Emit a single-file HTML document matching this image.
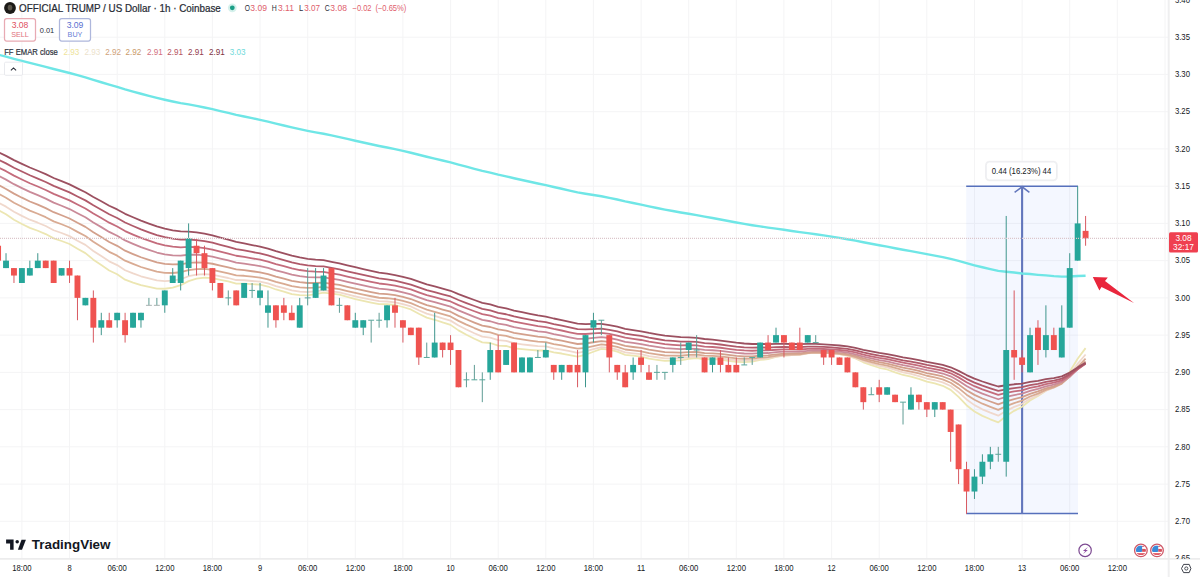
<!DOCTYPE html>
<html><head><meta charset="utf-8"><style>
html,body{margin:0;padding:0;background:#fff;}
body{width:1200px;height:577px;overflow:hidden;position:relative;font-family:"Liberation Sans",Arial,sans-serif;}
svg{position:absolute;left:0;top:0;font-family:"Liberation Sans",Arial,sans-serif;}
</style></head><body>
<svg width="1200" height="577" viewBox="0 0 1200 577">
<g stroke="#f4f4f5" stroke-width="1"><line x1="21.9" y1="0" x2="21.9" y2="559"/><line x1="69.5" y1="0" x2="69.5" y2="559"/><line x1="117.2" y1="0" x2="117.2" y2="559"/><line x1="164.8" y1="0" x2="164.8" y2="559"/><line x1="212.4" y1="0" x2="212.4" y2="559"/><line x1="260.0" y1="0" x2="260.0" y2="559"/><line x1="307.7" y1="0" x2="307.7" y2="559"/><line x1="355.3" y1="0" x2="355.3" y2="559"/><line x1="402.9" y1="0" x2="402.9" y2="559"/><line x1="450.6" y1="0" x2="450.6" y2="559"/><line x1="498.2" y1="0" x2="498.2" y2="559"/><line x1="545.8" y1="0" x2="545.8" y2="559"/><line x1="593.4" y1="0" x2="593.4" y2="559"/><line x1="641.1" y1="0" x2="641.1" y2="559"/><line x1="688.7" y1="0" x2="688.7" y2="559"/><line x1="736.3" y1="0" x2="736.3" y2="559"/><line x1="783.9" y1="0" x2="783.9" y2="559"/><line x1="831.6" y1="0" x2="831.6" y2="559"/><line x1="879.2" y1="0" x2="879.2" y2="559"/><line x1="926.8" y1="0" x2="926.8" y2="559"/><line x1="974.5" y1="0" x2="974.5" y2="559"/><line x1="1022.1" y1="0" x2="1022.1" y2="559"/><line x1="1069.7" y1="0" x2="1069.7" y2="559"/><line x1="1117.3" y1="0" x2="1117.3" y2="559"/><line x1="1165.0" y1="0" x2="1165.0" y2="559"/><line x1="0" y1="37.2" x2="1169" y2="37.2"/><line x1="0" y1="74.4" x2="1169" y2="74.4"/><line x1="0" y1="111.7" x2="1169" y2="111.7"/><line x1="0" y1="148.9" x2="1169" y2="148.9"/><line x1="0" y1="186.2" x2="1169" y2="186.2"/><line x1="0" y1="223.4" x2="1169" y2="223.4"/><line x1="0" y1="260.6" x2="1169" y2="260.6"/><line x1="0" y1="297.9" x2="1169" y2="297.9"/><line x1="0" y1="335.1" x2="1169" y2="335.1"/><line x1="0" y1="372.4" x2="1169" y2="372.4"/><line x1="0" y1="409.6" x2="1169" y2="409.6"/><line x1="0" y1="446.8" x2="1169" y2="446.8"/><line x1="0" y1="484.1" x2="1169" y2="484.1"/><line x1="0" y1="521.3" x2="1169" y2="521.3"/><line x1="0" y1="558.6" x2="1169" y2="558.6"/></g>
<rect x="966.2" y="186.2" width="111.8" height="327.7" fill="#2962ff" fill-opacity="0.05"/>
<line x1="966.2" y1="186.2" x2="1078.0" y2="186.2" stroke="#5670bc" stroke-width="1.5"/>
<line x1="966.2" y1="513.4" x2="1078.0" y2="513.4" stroke="#5670bc" stroke-width="1.5"/>
<line x1="1022.1" y1="513.9" x2="1022.1" y2="187.2" stroke="#6276bc" stroke-width="2.1"/>
<path d="M1014.6,192.4 L1022.1,186.8 L1029.4,192.4" fill="none" stroke="#6276bc" stroke-width="1.5"/>
<rect x="985.8" y="161.6" width="71.2" height="18.8" rx="3.5" fill="none" stroke="#f1f1f3" stroke-width="1.6"/>
<rect x="986.3" y="162.1" width="70.2" height="17.8" rx="3" fill="#fff" stroke="#e4e5ea" stroke-width="0.6"/>
<text x="1021.5" y="174.3" font-size="8.9" text-anchor="middle" fill="#131722" textLength="59.5" lengthAdjust="spacingAndGlyphs">0.44 (16.23%) 44</text>
<path d="M-1.91,209.86 L6.02,214.34 L13.96,219.73 L21.90,224.00 L29.84,227.88 L37.78,230.77 L45.71,234.06 L53.65,238.37 L61.59,240.99 L69.53,244.03 L77.47,248.78 L85.40,253.11 L93.34,259.68 L101.28,265.02 L109.22,270.54 L117.16,274.26 L125.09,279.63 L133.03,282.55 L140.97,285.21 L148.91,286.98 L156.85,288.60 L164.78,288.76 L172.72,287.60 L180.66,285.22 L188.60,281.09 L196.54,278.63 L204.47,277.70 L212.41,278.16 L220.35,279.90 L228.29,281.49 L236.23,283.59 L244.16,283.53 L252.10,284.14 L260.04,284.70 L267.98,286.52 L275.92,289.49 L283.85,291.54 L291.79,294.07 L299.73,295.06 L307.67,295.31 L315.61,294.22 L323.54,292.58 L331.48,293.70 L339.42,294.72 L347.36,296.97 L355.30,299.02 L363.23,300.89 L371.17,302.59 L379.11,304.15 L387.05,304.25 L394.99,305.00 L402.92,307.00 L410.86,309.48 L418.80,313.71 L426.74,317.57 L434.68,319.77 L442.61,322.44 L450.55,324.87 L458.49,330.37 L466.43,334.72 L474.37,338.70 L482.30,342.32 L490.24,343.00 L498.18,345.59 L506.12,345.98 L514.06,348.30 L521.99,349.11 L529.93,349.85 L537.87,350.52 L545.81,350.47 L553.75,352.40 L561.68,353.51 L569.62,355.17 L577.56,356.68 L585.50,354.78 L593.44,351.74 L601.37,348.96 L609.31,349.71 L617.25,351.70 L625.19,354.84 L633.13,355.73 L641.06,356.54 L649.00,358.59 L656.94,359.80 L664.88,360.91 L672.82,360.60 L680.75,360.33 L688.69,358.76 L696.63,357.99 L704.57,359.26 L712.51,359.10 L720.44,359.61 L728.38,360.74 L736.32,361.76 L744.26,362.04 L752.20,361.63 L760.13,359.95 L768.07,359.08 L776.01,356.97 L783.95,355.70 L791.89,355.20 L799.82,354.74 L807.76,353.01 L815.70,352.09 L823.64,352.56 L831.58,353.00 L839.51,354.05 L847.45,355.66 L855.39,358.45 L863.33,362.30 L871.27,365.15 L879.20,367.76 L887.14,369.48 L895.08,372.36 L903.02,374.98 L910.96,376.72 L918.89,378.96 L926.83,381.66 L934.77,383.47 L942.71,385.77 L950.65,389.84 L958.58,396.83 L966.52,405.18 L974.46,411.48 L982.40,415.91 L990.34,419.29 L998.27,422.38 L1006.21,416.00 L1014.15,410.84 L1022.09,406.79 L1030.03,400.47 L1037.96,396.03 L1045.90,390.66 L1053.84,387.08 L1061.78,381.84 L1069.72,371.81 L1077.65,358.73 L1085.59,348.12" fill="none" stroke="#ece6b2" stroke-width="1.8" stroke-linejoin="round"/>
<path d="M-1.91,202.37 L6.02,206.65 L13.96,211.71 L21.90,215.86 L29.84,219.70 L37.78,222.71 L45.71,226.04 L53.65,230.23 L61.59,233.01 L69.53,236.14 L77.47,240.68 L85.40,244.88 L93.34,250.97 L101.28,256.06 L109.22,261.32 L117.16,265.10 L125.09,270.25 L133.03,273.38 L140.97,276.27 L148.91,278.41 L156.85,280.39 L164.78,281.13 L172.72,280.72 L180.66,279.24 L188.60,276.23 L196.54,274.54 L204.47,274.06 L212.41,274.72 L220.35,276.42 L228.29,278.00 L236.23,280.01 L244.16,280.23 L252.10,280.98 L260.04,281.67 L267.98,283.41 L275.92,286.12 L283.85,288.08 L291.79,290.44 L299.73,291.53 L307.67,292.00 L315.61,291.34 L323.54,290.18 L331.48,291.29 L339.42,292.32 L347.36,294.37 L355.30,296.27 L363.23,298.03 L371.17,299.66 L379.11,301.18 L387.05,301.48 L394.99,302.31 L402.92,304.18 L410.86,306.45 L418.80,310.20 L426.74,313.67 L434.68,315.80 L442.61,318.31 L450.55,320.64 L458.49,325.54 L466.43,329.53 L474.37,333.23 L482.30,336.65 L490.24,337.63 L498.18,340.19 L506.12,340.91 L514.06,343.22 L521.99,344.27 L529.93,345.24 L537.87,346.14 L545.81,346.42 L553.75,348.33 L561.68,349.55 L569.62,351.22 L577.56,352.78 L585.50,351.48 L593.44,349.18 L601.37,347.05 L609.31,347.82 L617.25,349.62 L625.19,352.39 L633.13,353.31 L641.06,354.16 L649.00,356.05 L656.94,357.25 L664.88,358.36 L672.82,358.29 L680.75,358.23 L688.69,357.08 L696.63,356.56 L704.57,357.72 L712.51,357.70 L720.44,358.23 L728.38,359.27 L736.32,360.23 L744.26,360.58 L752.20,360.35 L760.13,359.04 L768.07,358.38 L776.01,356.67 L783.95,355.63 L791.89,355.22 L799.82,354.84 L807.76,353.39 L815.70,352.59 L823.64,352.95 L831.58,353.28 L839.51,354.14 L847.45,355.48 L855.39,357.81 L863.33,361.07 L871.27,363.54 L879.20,365.83 L887.14,367.41 L895.08,369.96 L903.02,372.33 L910.96,373.97 L918.89,376.05 L926.83,378.51 L934.77,380.25 L942.71,382.41 L950.65,386.05 L958.58,392.16 L966.52,399.46 L974.46,405.14 L982.40,409.30 L990.34,412.60 L998.27,415.67 L1006.21,410.84 L1014.15,406.92 L1022.09,403.83 L1030.03,398.78 L1037.96,395.20 L1045.90,390.78 L1053.84,387.78 L1061.78,383.36 L1069.72,374.89 L1077.65,363.75 L1085.59,354.53" fill="none" stroke="#f0d8cc" stroke-width="1.8" stroke-linejoin="round"/>
<path d="M-1.91,193.58 L6.02,197.79 L13.96,202.68 L21.90,206.79 L29.84,210.64 L37.78,213.78 L45.71,217.19 L53.65,221.33 L61.59,224.27 L69.53,227.49 L77.47,231.91 L85.40,236.05 L93.34,241.81 L101.28,246.74 L109.22,251.82 L117.16,255.65 L125.09,260.65 L133.03,263.92 L140.97,266.99 L148.91,269.40 L156.85,271.66 L164.78,272.84 L172.72,273.01 L180.66,272.23 L188.60,270.10 L196.54,269.04 L204.47,268.98 L212.41,269.86 L220.35,271.62 L228.29,273.27 L236.23,275.28 L244.16,275.77 L252.10,276.69 L260.04,277.55 L267.98,279.30 L275.92,281.87 L283.85,283.81 L291.79,286.10 L299.73,287.31 L307.67,287.97 L315.61,287.66 L323.54,286.90 L331.48,288.05 L339.42,289.14 L347.36,291.09 L355.30,292.92 L363.23,294.64 L371.17,296.25 L379.11,297.75 L387.05,298.23 L394.99,299.14 L402.92,300.94 L410.86,303.08 L418.80,306.50 L426.74,309.70 L434.68,311.77 L442.61,314.17 L450.55,316.42 L458.49,320.87 L466.43,324.58 L474.37,328.05 L482.30,331.30 L490.24,332.48 L498.18,334.98 L506.12,335.93 L514.06,338.22 L521.99,339.42 L529.93,340.56 L537.87,341.62 L545.81,342.15 L553.75,344.05 L561.68,345.36 L569.62,347.05 L577.56,348.64 L585.50,347.79 L593.44,346.06 L601.37,344.44 L609.31,345.26 L617.25,346.96 L625.19,349.49 L633.13,350.46 L641.06,351.37 L649.00,353.16 L656.94,354.36 L664.88,355.49 L672.82,355.62 L680.75,355.73 L688.69,354.91 L696.63,354.60 L704.57,355.71 L712.51,355.82 L720.44,356.40 L728.38,357.40 L736.32,358.34 L744.26,358.75 L752.20,358.67 L760.13,357.66 L768.07,357.18 L776.01,355.79 L783.95,354.96 L791.89,354.65 L799.82,354.36 L807.76,353.15 L815.70,352.49 L823.64,352.80 L831.58,353.09 L839.51,353.83 L847.45,355.00 L855.39,357.03 L863.33,359.86 L871.27,362.05 L879.20,364.10 L887.14,365.56 L895.08,367.86 L903.02,370.01 L910.96,371.56 L918.89,373.48 L926.83,375.75 L934.77,377.41 L942.71,379.43 L950.65,382.73 L958.58,388.17 L966.52,394.66 L974.46,399.81 L982.40,403.70 L990.34,406.88 L998.27,409.86 L1006.21,406.10 L1014.15,403.04 L1022.09,400.65 L1030.03,396.53 L1037.96,393.61 L1045.90,389.93 L1053.84,387.42 L1061.78,383.67 L1069.72,376.41 L1077.65,366.79 L1085.59,358.72" fill="none" stroke="#d9ab93" stroke-width="1.8" stroke-linejoin="round"/>
<path d="M-1.91,184.83 L6.02,188.94 L13.96,193.64 L21.90,197.68 L29.84,201.49 L37.78,204.70 L45.71,208.14 L53.65,212.20 L61.59,215.23 L69.53,218.50 L77.47,222.80 L85.40,226.87 L93.34,232.34 L101.28,237.10 L109.22,242.02 L117.16,245.85 L125.09,250.69 L133.03,254.06 L140.97,257.24 L148.91,259.85 L156.85,262.32 L164.78,263.84 L172.72,264.47 L180.66,264.27 L188.60,262.86 L196.54,262.33 L204.47,262.65 L212.41,263.75 L220.35,265.60 L228.29,267.35 L236.23,269.41 L244.16,270.15 L252.10,271.25 L260.04,272.29 L267.98,274.08 L275.92,276.58 L283.85,278.54 L291.79,280.80 L299.73,282.13 L307.67,282.99 L315.61,282.99 L323.54,282.58 L331.48,283.82 L339.42,284.98 L347.36,286.89 L355.30,288.70 L363.23,290.41 L371.17,292.03 L379.11,293.56 L387.05,294.19 L394.99,295.20 L402.92,296.96 L410.86,299.03 L418.80,302.20 L426.74,305.20 L434.68,307.22 L442.61,309.54 L450.55,311.74 L458.49,315.83 L466.43,319.30 L474.37,322.58 L482.30,325.69 L490.24,327.00 L498.18,329.46 L506.12,330.58 L514.06,332.84 L521.99,334.18 L529.93,335.44 L537.87,336.64 L545.81,337.36 L553.75,339.26 L561.68,340.65 L569.62,342.37 L577.56,344.00 L585.50,343.51 L593.44,342.25 L601.37,341.06 L609.31,341.95 L617.25,343.60 L625.19,345.96 L633.13,346.99 L641.06,347.96 L649.00,349.69 L656.94,350.92 L664.88,352.08 L672.82,352.37 L680.75,352.65 L688.69,352.10 L696.63,351.99 L704.57,353.09 L712.51,353.33 L720.44,353.96 L728.38,354.96 L736.32,355.90 L744.26,356.39 L752.20,356.45 L760.13,355.69 L768.07,355.39 L776.01,354.29 L783.95,353.65 L791.89,353.46 L799.82,353.27 L807.76,352.28 L815.70,351.76 L823.64,352.07 L831.58,352.36 L839.51,353.04 L847.45,354.09 L855.39,355.89 L863.33,358.40 L871.27,360.36 L879.20,362.23 L887.14,363.58 L895.08,365.67 L903.02,367.65 L910.96,369.12 L918.89,370.91 L926.83,373.01 L934.77,374.59 L942.71,376.49 L950.65,379.49 L958.58,384.36 L966.52,390.17 L974.46,394.86 L982.40,398.48 L990.34,401.51 L998.27,404.37 L1006.21,401.42 L1014.15,399.04 L1022.09,397.19 L1030.03,393.82 L1037.96,391.45 L1045.90,388.39 L1053.84,386.31 L1061.78,383.13 L1069.72,376.90 L1077.65,368.57 L1085.59,361.51" fill="none" stroke="#d3a08c" stroke-width="1.8" stroke-linejoin="round"/>
<path d="M-1.91,175.59 L6.02,179.62 L13.96,184.17 L21.90,188.14 L29.84,191.93 L37.78,195.19 L45.71,198.64 L53.65,202.64 L61.59,205.74 L69.53,209.05 L77.47,213.26 L85.40,217.27 L93.34,222.50 L101.28,227.13 L109.22,231.90 L117.16,235.73 L125.09,240.44 L133.03,243.87 L140.97,247.13 L148.91,249.89 L156.85,252.52 L164.78,254.31 L172.72,255.32 L180.66,255.57 L188.60,254.75 L196.54,254.68 L204.47,255.31 L212.41,256.63 L220.35,258.58 L228.29,260.44 L236.23,262.57 L244.16,263.54 L252.10,264.81 L260.04,266.03 L267.98,267.89 L275.92,270.37 L283.85,272.38 L291.79,274.65 L299.73,276.10 L307.67,277.13 L315.61,277.41 L323.54,277.32 L331.48,278.65 L339.42,279.91 L347.36,281.82 L355.30,283.64 L363.23,285.38 L371.17,287.03 L379.11,288.60 L387.05,289.39 L394.99,290.50 L402.92,292.26 L410.86,294.29 L418.80,297.29 L426.74,300.14 L434.68,302.15 L442.61,304.42 L450.55,306.58 L458.49,310.40 L466.43,313.69 L474.37,316.82 L482.30,319.81 L490.24,321.24 L498.18,323.66 L506.12,324.91 L514.06,327.16 L521.99,328.60 L529.93,329.96 L537.87,331.27 L545.81,332.16 L553.75,334.06 L561.68,335.52 L569.62,337.27 L577.56,338.93 L585.50,338.75 L593.44,337.87 L601.37,337.04 L609.31,338.00 L617.25,339.63 L625.19,341.89 L633.13,342.98 L641.06,344.02 L649.00,345.72 L656.94,346.98 L664.88,348.18 L672.82,348.62 L680.75,349.04 L688.69,348.73 L696.63,348.79 L704.57,349.91 L712.51,350.27 L720.44,350.96 L728.38,351.98 L736.32,352.94 L744.26,353.51 L752.20,353.70 L760.13,353.17 L768.07,353.02 L776.01,352.17 L783.95,351.72 L791.89,351.64 L799.82,351.56 L807.76,350.78 L815.70,350.39 L823.64,350.73 L831.58,351.05 L839.51,351.70 L847.45,352.68 L855.39,354.32 L863.33,356.59 L871.27,358.39 L879.20,360.11 L887.14,361.40 L895.08,363.33 L903.02,365.17 L910.96,366.57 L918.89,368.26 L926.83,370.22 L934.77,371.73 L942.71,373.52 L950.65,376.29 L958.58,380.69 L966.52,385.95 L974.46,390.24 L982.40,393.63 L990.34,396.51 L998.27,399.24 L1006.21,396.91 L1014.15,395.04 L1022.09,393.61 L1030.03,390.84 L1037.96,388.91 L1045.90,386.36 L1053.84,384.64 L1061.78,381.94 L1069.72,376.54 L1077.65,369.28 L1085.59,363.08" fill="none" stroke="#ca8a98" stroke-width="1.8" stroke-linejoin="round"/>
<path d="M-1.91,167.22 L6.02,171.18 L13.96,175.60 L21.90,179.51 L29.84,183.26 L37.78,186.54 L45.71,189.99 L53.65,193.93 L61.59,197.07 L69.53,200.39 L77.47,204.52 L85.40,208.47 L93.34,213.52 L101.28,218.04 L109.22,222.68 L117.16,226.49 L125.09,231.09 L133.03,234.55 L140.97,237.86 L148.91,240.72 L156.85,243.45 L164.78,245.44 L172.72,246.72 L180.66,247.31 L188.60,246.92 L196.54,247.19 L204.47,248.07 L212.41,249.55 L220.35,251.60 L228.29,253.56 L236.23,255.75 L244.16,256.90 L252.10,258.32 L260.04,259.68 L267.98,261.61 L275.92,264.10 L283.85,266.16 L291.79,268.45 L299.73,270.01 L307.67,271.19 L315.61,271.69 L323.54,271.85 L331.48,273.27 L339.42,274.62 L347.36,276.56 L355.30,278.40 L363.23,280.17 L371.17,281.87 L379.11,283.49 L387.05,284.42 L394.99,285.62 L402.92,287.40 L410.86,289.42 L418.80,292.30 L426.74,295.06 L434.68,297.07 L442.61,299.31 L450.55,301.46 L458.49,305.09 L466.43,308.25 L474.37,311.28 L482.30,314.19 L490.24,315.70 L498.18,318.10 L506.12,319.45 L514.06,321.69 L521.99,323.21 L529.93,324.66 L537.87,326.05 L545.81,327.06 L553.75,328.98 L561.68,330.50 L569.62,332.27 L577.56,333.97 L585.50,334.02 L593.44,333.43 L601.37,332.88 L609.31,333.92 L617.25,335.54 L625.19,337.73 L633.13,338.88 L641.06,339.99 L649.00,341.67 L656.94,342.97 L664.88,344.22 L672.82,344.78 L680.75,345.31 L688.69,345.20 L696.63,345.40 L704.57,346.54 L712.51,347.00 L720.44,347.76 L728.38,348.80 L736.32,349.80 L744.26,350.44 L752.20,350.74 L760.13,350.39 L768.07,350.38 L776.01,349.73 L783.95,349.43 L791.89,349.45 L799.82,349.48 L807.76,348.87 L815.70,348.60 L823.64,348.98 L831.58,349.34 L839.51,350.00 L847.45,350.94 L855.39,352.48 L863.33,354.58 L871.27,356.28 L879.20,357.91 L887.14,359.15 L895.08,360.97 L903.02,362.72 L910.96,364.07 L918.89,365.68 L926.83,367.54 L934.77,369.01 L942.71,370.73 L950.65,373.32 L958.58,377.38 L966.52,382.21 L974.46,386.21 L982.40,389.40 L990.34,392.15 L998.27,394.78 L1006.21,392.89 L1014.15,391.39 L1022.09,390.27 L1030.03,387.93 L1037.96,386.33 L1045.90,384.16 L1053.84,382.71 L1061.78,380.38 L1069.72,375.63 L1077.65,369.18 L1085.59,363.64" fill="none" stroke="#c46c7c" stroke-width="1.8" stroke-linejoin="round"/>
<path d="M-1.91,159.48 L6.02,163.37 L13.96,167.69 L21.90,171.56 L29.84,175.28 L37.78,178.57 L45.71,182.01 L53.65,185.90 L61.59,189.07 L69.53,192.40 L77.47,196.46 L85.40,200.37 L93.34,205.27 L101.28,209.70 L109.22,214.24 L117.16,218.04 L125.09,222.55 L133.03,226.02 L140.97,229.37 L148.91,232.29 L156.85,235.11 L164.78,237.24 L172.72,238.71 L180.66,239.56 L188.60,239.51 L196.54,240.03 L204.47,241.12 L212.41,242.73 L220.35,244.85 L228.29,246.89 L236.23,249.15 L244.16,250.45 L252.10,251.99 L260.04,253.47 L267.98,255.47 L275.92,257.96 L283.85,260.07 L291.79,262.39 L299.73,264.04 L307.67,265.35 L315.61,266.03 L323.54,266.39 L331.48,267.89 L339.42,269.33 L347.36,271.29 L355.30,273.18 L363.23,274.99 L371.17,276.73 L379.11,278.41 L387.05,279.45 L394.99,280.73 L402.92,282.54 L410.86,284.56 L418.80,287.37 L426.74,290.07 L434.68,292.09 L442.61,294.32 L450.55,296.47 L458.49,299.97 L466.43,303.04 L474.37,306.00 L482.30,308.84 L490.24,310.43 L498.18,312.81 L506.12,314.25 L514.06,316.48 L521.99,318.06 L529.93,319.58 L537.87,321.04 L545.81,322.16 L553.75,324.09 L561.68,325.66 L569.62,327.46 L577.56,329.19 L585.50,329.42 L593.44,329.06 L601.37,328.72 L609.31,329.83 L617.25,331.47 L625.19,333.62 L633.13,334.82 L641.06,335.98 L649.00,337.67 L656.94,339.01 L664.88,340.29 L672.82,340.95 L680.75,341.59 L688.69,341.63 L696.63,341.95 L704.57,343.12 L712.51,343.67 L720.44,344.49 L728.38,345.56 L736.32,346.60 L744.26,347.30 L752.20,347.69 L760.13,347.50 L768.07,347.59 L776.01,347.11 L783.95,346.94 L791.89,347.06 L799.82,347.17 L807.76,346.71 L815.70,346.55 L823.64,346.97 L831.58,347.37 L839.51,348.05 L847.45,348.98 L855.39,350.46 L863.33,352.45 L871.27,354.08 L879.20,355.64 L887.14,356.86 L895.08,358.60 L903.02,360.28 L910.96,361.61 L918.89,363.17 L926.83,364.96 L934.77,366.39 L942.71,368.05 L950.65,370.52 L958.58,374.32 L966.52,378.83 L974.46,382.60 L982.40,385.65 L990.34,388.29 L998.27,390.83 L1006.21,389.26 L1014.15,388.04 L1022.09,387.14 L1030.03,385.14 L1037.96,383.79 L1045.90,381.91 L1053.84,380.68 L1061.78,378.64 L1069.72,374.38 L1077.65,368.57 L1085.59,363.55" fill="none" stroke="#b05a6a" stroke-width="1.8" stroke-linejoin="round"/>
<path d="M-1.91,152.12 L6.02,155.91 L13.96,160.10 L21.90,163.87 L29.84,167.52 L37.78,170.77 L45.71,174.17 L53.65,177.98 L61.59,181.13 L69.53,184.43 L77.47,188.39 L85.40,192.22 L93.34,196.96 L101.28,201.27 L109.22,205.69 L117.16,209.43 L125.09,213.82 L133.03,217.28 L140.97,220.62 L148.91,223.58 L156.85,226.44 L164.78,228.68 L172.72,230.32 L180.66,231.38 L188.60,231.62 L196.54,232.37 L204.47,233.62 L212.41,235.35 L220.35,237.53 L228.29,239.64 L236.23,241.94 L244.16,243.37 L252.10,245.02 L260.04,246.61 L267.98,248.66 L275.92,251.16 L283.85,253.32 L291.79,255.66 L299.73,257.39 L307.67,258.81 L315.61,259.65 L323.54,260.21 L331.48,261.79 L339.42,263.31 L347.36,265.30 L355.30,267.22 L363.23,269.07 L371.17,270.86 L379.11,272.58 L387.05,273.73 L394.99,275.09 L402.92,276.93 L410.86,278.97 L418.80,281.71 L426.74,284.36 L434.68,286.39 L442.61,288.62 L450.55,290.77 L458.49,294.14 L466.43,297.13 L474.37,300.02 L482.30,302.81 L490.24,304.46 L498.18,306.84 L506.12,308.35 L514.06,310.58 L521.99,312.22 L529.93,313.81 L537.87,315.33 L545.81,316.54 L553.75,318.50 L561.68,320.12 L569.62,321.94 L577.56,323.71 L585.50,324.11 L593.44,323.97 L601.37,323.84 L609.31,325.02 L617.25,326.67 L625.19,328.79 L633.13,330.05 L641.06,331.27 L649.00,332.97 L656.94,334.34 L664.88,335.67 L672.82,336.43 L680.75,337.17 L688.69,337.36 L696.63,337.80 L704.57,339.01 L712.51,339.65 L720.44,340.54 L728.38,341.65 L736.32,342.72 L744.26,343.50 L752.20,343.99 L760.13,343.94 L768.07,344.15 L776.01,343.83 L783.95,343.79 L791.89,344.01 L799.82,344.22 L807.76,343.90 L815.70,343.85 L823.64,344.33 L831.58,344.79 L839.51,345.49 L847.45,346.43 L855.39,347.86 L863.33,349.76 L871.27,351.33 L879.20,352.84 L887.14,354.05 L895.08,355.73 L903.02,357.35 L910.96,358.66 L918.89,360.18 L926.83,361.91 L934.77,363.31 L942.71,364.93 L950.65,367.27 L958.58,370.84 L966.52,375.06 L974.46,378.61 L982.40,381.51 L990.34,384.06 L998.27,386.51 L1006.21,385.24 L1014.15,384.27 L1022.09,383.59 L1030.03,381.90 L1037.96,380.78 L1045.90,379.18 L1053.84,378.16 L1061.78,376.40 L1069.72,372.61 L1077.65,367.40 L1085.59,362.88" fill="none" stroke="#9c5060" stroke-width="1.8" stroke-linejoin="round"/>
<path d="M-1.91,54.64 L6.02,56.67 L13.96,58.83 L21.90,60.89 L29.84,62.93 L37.78,64.88 L45.71,66.88 L53.65,69.01 L61.59,70.97 L69.53,72.99 L77.47,75.21 L85.40,77.40 L93.34,79.87 L101.28,82.23 L109.22,84.65 L117.16,86.90 L125.09,89.35 L133.03,91.55 L140.97,93.73 L148.91,95.82 L156.85,97.88 L164.78,99.78 L172.72,101.51 L180.66,103.08 L188.60,104.41 L196.54,105.88 L204.47,107.48 L212.41,109.20 L220.35,111.06 L228.29,112.91 L236.23,114.80 L244.16,116.46 L252.10,118.17 L260.04,119.87 L267.98,121.70 L275.92,123.66 L283.85,125.52 L291.79,127.44 L299.73,129.19 L307.67,130.85 L315.61,132.35 L323.54,133.76 L331.48,135.45 L339.42,137.13 L347.36,138.93 L355.30,140.72 L363.23,142.49 L371.17,144.24 L379.11,145.97 L387.05,147.54 L394.99,149.17 L402.92,150.93 L410.86,152.75 L418.80,154.76 L426.74,156.76 L434.68,158.59 L442.61,160.48 L450.55,162.35 L458.49,164.56 L466.43,166.69 L474.37,168.79 L482.30,170.87 L490.24,172.63 L498.18,174.60 L506.12,176.33 L514.06,178.26 L521.99,180.03 L529.93,181.77 L537.87,183.51 L545.81,185.15 L553.75,186.99 L561.68,188.75 L569.62,190.55 L577.56,192.35 L585.50,193.75 L593.44,195.00 L601.37,196.23 L609.31,197.82 L617.25,199.54 L625.19,201.39 L633.13,203.00 L641.06,204.60 L649.00,206.33 L656.94,207.96 L664.88,209.58 L672.82,211.04 L680.75,212.48 L688.69,213.77 L696.63,215.11 L704.57,216.66 L712.51,218.05 L720.44,219.49 L728.38,221.00 L736.32,222.49 L744.26,223.89 L752.20,225.21 L760.13,226.37 L768.07,227.59 L776.01,228.65 L783.95,229.77 L791.89,230.95 L799.82,232.13 L807.76,233.14 L815.70,234.22 L823.64,235.43 L831.58,236.64 L839.51,237.90 L847.45,239.23 L855.39,240.69 L863.33,242.28 L871.27,243.78 L879.20,245.27 L887.14,246.67 L895.08,248.20 L903.02,249.71 L910.96,251.14 L918.89,252.63 L926.83,254.18 L934.77,255.64 L942.71,257.15 L950.65,258.88 L958.58,260.95 L966.52,263.22 L974.46,265.32 L982.40,267.26 L990.34,269.10 L998.27,270.93 L1006.21,271.71 L1014.15,272.55 L1022.09,273.46 L1030.03,274.07 L1037.96,274.82 L1045.90,275.41 L1053.84,276.15 L1061.78,276.66 L1069.72,276.57 L1077.65,276.05 L1085.59,275.68" fill="none" stroke="#6fe6e6" stroke-width="2.4" stroke-linejoin="round"/>
<rect x="-2.41" y="238.30" width="1" height="22.34" fill="#d85a62"/><rect x="-4.86" y="245.74" width="5.9" height="14.90" fill="#ef5350"/><rect x="5.52" y="253.19" width="1" height="14.90" fill="#3f968d"/><rect x="3.07" y="260.64" width="5.9" height="7.45" fill="#26a69a"/><rect x="13.46" y="268.09" width="1" height="14.90" fill="#d85a62"/><rect x="11.01" y="268.09" width="5.9" height="7.45" fill="#ef5350"/><rect x="21.40" y="268.09" width="1" height="14.90" fill="#3f968d"/><rect x="18.95" y="268.09" width="5.9" height="14.90" fill="#26a69a"/><rect x="29.34" y="260.64" width="1" height="14.90" fill="#3f968d"/><rect x="26.89" y="268.09" width="5.9" height="7.45" fill="#26a69a"/><rect x="37.28" y="253.19" width="1" height="14.90" fill="#3f968d"/><rect x="34.83" y="260.64" width="5.9" height="7.45" fill="#26a69a"/><rect x="45.21" y="260.64" width="1" height="7.45" fill="#d85a62"/><rect x="42.76" y="260.64" width="5.9" height="7.45" fill="#ef5350"/><rect x="53.15" y="260.64" width="1" height="22.34" fill="#d85a62"/><rect x="50.70" y="260.64" width="5.9" height="22.34" fill="#ef5350"/><rect x="61.09" y="268.09" width="1" height="7.45" fill="#3f968d"/><rect x="58.64" y="268.09" width="5.9" height="7.45" fill="#26a69a"/><rect x="69.03" y="260.64" width="1" height="22.34" fill="#d85a62"/><rect x="66.58" y="268.09" width="5.9" height="7.45" fill="#ef5350"/><rect x="76.97" y="275.54" width="1" height="44.69" fill="#d85a62"/><rect x="74.52" y="275.54" width="5.9" height="22.34" fill="#ef5350"/><rect x="84.90" y="297.88" width="1" height="7.45" fill="#3f968d"/><rect x="82.45" y="297.88" width="5.9" height="7.45" fill="#26a69a"/><rect x="92.84" y="290.43" width="1" height="52.14" fill="#d85a62"/><rect x="90.39" y="297.88" width="5.9" height="29.79" fill="#ef5350"/><rect x="100.78" y="312.78" width="1" height="22.34" fill="#3f968d"/><rect x="98.33" y="320.22" width="5.9" height="7.45" fill="#26a69a"/><rect x="108.72" y="312.78" width="1" height="14.90" fill="#d85a62"/><rect x="106.27" y="320.22" width="5.9" height="7.45" fill="#ef5350"/><rect x="116.66" y="312.78" width="1" height="14.90" fill="#3f968d"/><rect x="114.21" y="312.78" width="5.9" height="7.45" fill="#26a69a"/><rect x="124.59" y="312.78" width="1" height="29.79" fill="#d85a62"/><rect x="122.14" y="320.22" width="5.9" height="14.90" fill="#ef5350"/><rect x="132.53" y="312.78" width="1" height="14.90" fill="#3f968d"/><rect x="130.08" y="312.78" width="5.9" height="14.90" fill="#26a69a"/><rect x="140.47" y="312.78" width="1" height="14.90" fill="#3f968d"/><rect x="138.02" y="312.78" width="5.9" height="7.45" fill="#26a69a"/><rect x="148.41" y="297.88" width="1" height="7.45" fill="#5f9c94"/><rect x="145.96" y="304.83" width="5.9" height="1" fill="#a9b3b1"/><rect x="156.35" y="297.88" width="1" height="7.45" fill="#5f9c94"/><rect x="153.90" y="304.83" width="5.9" height="1" fill="#a9b3b1"/><rect x="164.28" y="290.43" width="1" height="22.34" fill="#3f968d"/><rect x="161.83" y="290.43" width="5.9" height="14.90" fill="#26a69a"/><rect x="172.22" y="268.09" width="1" height="14.90" fill="#3f968d"/><rect x="169.77" y="275.54" width="5.9" height="7.45" fill="#26a69a"/><rect x="180.16" y="260.64" width="1" height="29.79" fill="#3f968d"/><rect x="177.71" y="260.64" width="5.9" height="22.34" fill="#26a69a"/><rect x="188.10" y="223.40" width="1" height="52.14" fill="#3f968d"/><rect x="185.65" y="238.30" width="5.9" height="29.79" fill="#26a69a"/><rect x="196.04" y="238.30" width="1" height="37.24" fill="#d85a62"/><rect x="193.59" y="245.74" width="5.9" height="7.45" fill="#ef5350"/><rect x="203.97" y="245.74" width="1" height="29.79" fill="#d85a62"/><rect x="201.52" y="253.19" width="5.9" height="14.90" fill="#ef5350"/><rect x="211.91" y="268.09" width="1" height="22.34" fill="#d85a62"/><rect x="209.46" y="268.09" width="5.9" height="14.90" fill="#ef5350"/><rect x="219.85" y="282.98" width="1" height="14.90" fill="#d85a62"/><rect x="217.40" y="282.98" width="5.9" height="14.90" fill="#ef5350"/><rect x="227.79" y="290.43" width="1" height="14.90" fill="#5f9c94"/><rect x="225.34" y="297.38" width="5.9" height="1" fill="#5aa79c"/><rect x="235.73" y="290.43" width="1" height="14.90" fill="#d85a62"/><rect x="233.28" y="290.43" width="5.9" height="14.90" fill="#ef5350"/><rect x="243.66" y="282.98" width="1" height="14.90" fill="#3f968d"/><rect x="241.21" y="282.98" width="5.9" height="14.90" fill="#26a69a"/><rect x="251.60" y="282.98" width="1" height="14.90" fill="#5f9c94"/><rect x="249.15" y="289.93" width="5.9" height="1" fill="#5aa79c"/><rect x="259.54" y="282.98" width="1" height="22.34" fill="#3f968d"/><rect x="257.09" y="290.43" width="5.9" height="7.45" fill="#26a69a"/><rect x="267.48" y="290.43" width="1" height="37.24" fill="#3f968d"/><rect x="265.03" y="305.33" width="5.9" height="7.45" fill="#26a69a"/><rect x="275.42" y="305.33" width="1" height="22.34" fill="#d85a62"/><rect x="272.97" y="305.33" width="5.9" height="14.90" fill="#ef5350"/><rect x="283.35" y="297.88" width="1" height="22.34" fill="#d85a62"/><rect x="280.90" y="305.33" width="5.9" height="7.45" fill="#ef5350"/><rect x="291.29" y="305.33" width="1" height="14.90" fill="#d85a62"/><rect x="288.84" y="312.78" width="5.9" height="7.45" fill="#ef5350"/><rect x="299.23" y="297.88" width="1" height="29.79" fill="#3f968d"/><rect x="296.78" y="305.33" width="5.9" height="22.34" fill="#26a69a"/><rect x="307.17" y="268.09" width="1" height="37.24" fill="#5f9c94"/><rect x="304.72" y="297.38" width="5.9" height="1" fill="#5aa79c"/><rect x="315.11" y="268.09" width="1" height="29.79" fill="#3f968d"/><rect x="312.66" y="282.98" width="5.9" height="14.90" fill="#26a69a"/><rect x="323.04" y="268.09" width="1" height="22.34" fill="#3f968d"/><rect x="320.59" y="275.54" width="5.9" height="14.90" fill="#26a69a"/><rect x="330.98" y="268.09" width="1" height="37.24" fill="#d85a62"/><rect x="328.53" y="268.09" width="5.9" height="37.24" fill="#ef5350"/><rect x="338.92" y="297.88" width="1" height="14.90" fill="#5f9c94"/><rect x="336.47" y="304.83" width="5.9" height="1" fill="#5aa79c"/><rect x="346.86" y="305.33" width="1" height="14.90" fill="#d85a62"/><rect x="344.41" y="305.33" width="5.9" height="14.90" fill="#ef5350"/><rect x="354.80" y="312.78" width="1" height="14.90" fill="#3f968d"/><rect x="352.35" y="320.22" width="5.9" height="7.45" fill="#26a69a"/><rect x="362.73" y="320.22" width="1" height="14.90" fill="#3f968d"/><rect x="360.28" y="320.22" width="5.9" height="7.45" fill="#26a69a"/><rect x="370.67" y="320.22" width="1" height="22.34" fill="#5f9c94"/><rect x="368.22" y="319.72" width="5.9" height="1" fill="#5aa79c"/><rect x="378.61" y="312.78" width="1" height="14.90" fill="#5f9c94"/><rect x="376.16" y="319.72" width="5.9" height="1" fill="#5aa79c"/><rect x="386.55" y="305.33" width="1" height="22.34" fill="#3f968d"/><rect x="384.10" y="305.33" width="5.9" height="14.90" fill="#26a69a"/><rect x="394.49" y="297.88" width="1" height="29.79" fill="#d85a62"/><rect x="392.04" y="305.33" width="5.9" height="7.45" fill="#ef5350"/><rect x="402.42" y="320.22" width="1" height="22.34" fill="#d85a62"/><rect x="399.97" y="320.22" width="5.9" height="7.45" fill="#ef5350"/><rect x="410.36" y="327.67" width="1" height="7.45" fill="#d85a62"/><rect x="407.91" y="327.67" width="5.9" height="7.45" fill="#ef5350"/><rect x="418.30" y="327.67" width="1" height="37.24" fill="#d85a62"/><rect x="415.85" y="327.67" width="5.9" height="29.79" fill="#ef5350"/><rect x="426.24" y="342.57" width="1" height="14.90" fill="#5f9c94"/><rect x="423.79" y="356.96" width="5.9" height="1" fill="#5aa79c"/><rect x="434.18" y="312.78" width="1" height="44.69" fill="#3f968d"/><rect x="431.73" y="342.57" width="5.9" height="14.90" fill="#26a69a"/><rect x="442.11" y="342.57" width="1" height="14.90" fill="#d85a62"/><rect x="439.66" y="342.57" width="5.9" height="7.45" fill="#ef5350"/><rect x="450.05" y="335.12" width="1" height="29.79" fill="#d85a62"/><rect x="447.60" y="342.57" width="5.9" height="7.45" fill="#ef5350"/><rect x="457.99" y="350.02" width="1" height="37.24" fill="#d85a62"/><rect x="455.54" y="350.02" width="5.9" height="37.24" fill="#ef5350"/><rect x="465.93" y="372.36" width="1" height="14.90" fill="#5f9c94"/><rect x="463.48" y="379.31" width="5.9" height="1" fill="#5aa79c"/><rect x="473.87" y="364.91" width="1" height="14.90" fill="#5f9c94"/><rect x="471.42" y="379.31" width="5.9" height="1" fill="#5aa79c"/><rect x="481.80" y="372.36" width="1" height="29.79" fill="#5f9c94"/><rect x="479.35" y="379.31" width="5.9" height="1" fill="#5aa79c"/><rect x="489.74" y="342.57" width="1" height="37.24" fill="#3f968d"/><rect x="487.29" y="350.02" width="5.9" height="22.34" fill="#26a69a"/><rect x="497.68" y="335.12" width="1" height="37.24" fill="#d85a62"/><rect x="495.23" y="350.02" width="5.9" height="22.34" fill="#ef5350"/><rect x="505.62" y="350.02" width="1" height="14.90" fill="#3f968d"/><rect x="503.17" y="350.02" width="5.9" height="14.90" fill="#26a69a"/><rect x="513.56" y="342.57" width="1" height="29.79" fill="#d85a62"/><rect x="511.11" y="342.57" width="5.9" height="29.79" fill="#ef5350"/><rect x="521.49" y="357.46" width="1" height="14.90" fill="#3f968d"/><rect x="519.04" y="357.46" width="5.9" height="14.90" fill="#26a69a"/><rect x="529.43" y="357.46" width="1" height="14.90" fill="#3f968d"/><rect x="526.98" y="357.46" width="5.9" height="14.90" fill="#26a69a"/><rect x="537.37" y="350.02" width="1" height="7.45" fill="#5f9c94"/><rect x="534.92" y="356.96" width="5.9" height="1" fill="#5aa79c"/><rect x="545.31" y="342.57" width="1" height="14.90" fill="#3f968d"/><rect x="542.86" y="350.02" width="5.9" height="7.45" fill="#26a69a"/><rect x="553.25" y="364.91" width="1" height="14.90" fill="#d85a62"/><rect x="550.80" y="364.91" width="5.9" height="7.45" fill="#ef5350"/><rect x="561.18" y="364.91" width="1" height="14.90" fill="#3f968d"/><rect x="558.73" y="364.91" width="5.9" height="7.45" fill="#26a69a"/><rect x="569.12" y="364.91" width="1" height="7.45" fill="#d85a62"/><rect x="566.67" y="364.91" width="5.9" height="7.45" fill="#ef5350"/><rect x="577.06" y="350.02" width="1" height="37.24" fill="#d85a62"/><rect x="574.61" y="364.91" width="5.9" height="7.45" fill="#ef5350"/><rect x="585.00" y="335.12" width="1" height="52.14" fill="#3f968d"/><rect x="582.55" y="335.12" width="5.9" height="37.24" fill="#26a69a"/><rect x="592.94" y="312.78" width="1" height="29.79" fill="#3f968d"/><rect x="590.49" y="320.22" width="5.9" height="7.45" fill="#26a69a"/><rect x="600.87" y="320.22" width="1" height="14.90" fill="#5f9c94"/><rect x="598.42" y="319.72" width="5.9" height="1" fill="#5aa79c"/><rect x="608.81" y="335.12" width="1" height="37.24" fill="#d85a62"/><rect x="606.36" y="335.12" width="5.9" height="22.34" fill="#ef5350"/><rect x="616.75" y="364.91" width="1" height="14.90" fill="#d85a62"/><rect x="614.30" y="364.91" width="5.9" height="7.45" fill="#ef5350"/><rect x="624.69" y="364.91" width="1" height="22.34" fill="#d85a62"/><rect x="622.24" y="372.36" width="5.9" height="14.90" fill="#ef5350"/><rect x="632.63" y="357.46" width="1" height="22.34" fill="#3f968d"/><rect x="630.18" y="364.91" width="5.9" height="7.45" fill="#26a69a"/><rect x="640.56" y="350.02" width="1" height="22.34" fill="#d85a62"/><rect x="638.11" y="357.46" width="5.9" height="7.45" fill="#ef5350"/><rect x="648.50" y="364.91" width="1" height="14.90" fill="#d85a62"/><rect x="646.05" y="372.36" width="5.9" height="7.45" fill="#ef5350"/><rect x="656.44" y="364.91" width="1" height="14.90" fill="#5f9c94"/><rect x="653.99" y="371.86" width="5.9" height="1" fill="#5aa79c"/><rect x="664.38" y="372.36" width="1" height="7.45" fill="#5f9c94"/><rect x="661.93" y="371.86" width="5.9" height="1" fill="#5aa79c"/><rect x="672.32" y="357.46" width="1" height="14.90" fill="#3f968d"/><rect x="669.87" y="357.46" width="5.9" height="7.45" fill="#26a69a"/><rect x="680.25" y="342.57" width="1" height="22.34" fill="#5f9c94"/><rect x="677.80" y="356.96" width="5.9" height="1" fill="#5aa79c"/><rect x="688.19" y="342.57" width="1" height="14.90" fill="#3f968d"/><rect x="685.74" y="342.57" width="5.9" height="7.45" fill="#26a69a"/><rect x="696.13" y="335.12" width="1" height="22.34" fill="#5f9c94"/><rect x="693.68" y="349.52" width="5.9" height="1" fill="#5aa79c"/><rect x="704.07" y="357.46" width="1" height="14.90" fill="#d85a62"/><rect x="701.62" y="357.46" width="5.9" height="14.90" fill="#ef5350"/><rect x="712.01" y="357.46" width="1" height="14.90" fill="#3f968d"/><rect x="709.56" y="357.46" width="5.9" height="7.45" fill="#26a69a"/><rect x="719.94" y="350.02" width="1" height="22.34" fill="#d85a62"/><rect x="717.49" y="357.46" width="5.9" height="7.45" fill="#ef5350"/><rect x="727.88" y="357.46" width="1" height="14.90" fill="#d85a62"/><rect x="725.43" y="364.91" width="5.9" height="7.45" fill="#ef5350"/><rect x="735.82" y="357.46" width="1" height="14.90" fill="#d85a62"/><rect x="733.37" y="364.91" width="5.9" height="7.45" fill="#ef5350"/><rect x="743.76" y="357.46" width="1" height="7.45" fill="#5f9c94"/><rect x="741.31" y="364.41" width="5.9" height="1" fill="#5aa79c"/><rect x="751.70" y="357.46" width="1" height="7.45" fill="#5f9c94"/><rect x="749.25" y="356.96" width="5.9" height="1" fill="#5aa79c"/><rect x="759.63" y="342.57" width="1" height="14.90" fill="#3f968d"/><rect x="757.18" y="342.57" width="5.9" height="14.90" fill="#26a69a"/><rect x="767.57" y="335.12" width="1" height="14.90" fill="#d85a62"/><rect x="765.12" y="342.57" width="5.9" height="7.45" fill="#ef5350"/><rect x="775.51" y="327.67" width="1" height="14.90" fill="#3f968d"/><rect x="773.06" y="335.12" width="5.9" height="7.45" fill="#26a69a"/><rect x="783.45" y="335.12" width="1" height="22.34" fill="#d85a62"/><rect x="781.00" y="335.12" width="5.9" height="7.45" fill="#ef5350"/><rect x="791.39" y="342.57" width="1" height="7.45" fill="#d85a62"/><rect x="788.94" y="342.57" width="5.9" height="7.45" fill="#ef5350"/><rect x="799.32" y="327.67" width="1" height="22.34" fill="#d85a62"/><rect x="796.87" y="342.57" width="5.9" height="7.45" fill="#ef5350"/><rect x="807.26" y="335.12" width="1" height="7.45" fill="#3f968d"/><rect x="804.81" y="335.12" width="5.9" height="7.45" fill="#26a69a"/><rect x="815.20" y="335.12" width="1" height="7.45" fill="#5f9c94"/><rect x="812.75" y="342.07" width="5.9" height="1" fill="#5aa79c"/><rect x="823.14" y="350.02" width="1" height="14.90" fill="#d85a62"/><rect x="820.69" y="350.02" width="5.9" height="7.45" fill="#ef5350"/><rect x="831.08" y="350.02" width="1" height="14.90" fill="#d85a62"/><rect x="828.63" y="350.02" width="5.9" height="7.45" fill="#ef5350"/><rect x="839.01" y="357.46" width="1" height="7.45" fill="#d85a62"/><rect x="836.56" y="357.46" width="5.9" height="7.45" fill="#ef5350"/><rect x="846.95" y="357.46" width="1" height="14.90" fill="#d85a62"/><rect x="844.50" y="357.46" width="5.9" height="14.90" fill="#ef5350"/><rect x="854.89" y="372.36" width="1" height="14.90" fill="#d85a62"/><rect x="852.44" y="372.36" width="5.9" height="14.90" fill="#ef5350"/><rect x="862.83" y="387.26" width="1" height="22.34" fill="#d85a62"/><rect x="860.38" y="387.26" width="5.9" height="14.90" fill="#ef5350"/><rect x="870.77" y="387.26" width="1" height="7.45" fill="#5f9c94"/><rect x="868.32" y="394.20" width="5.9" height="1" fill="#5aa79c"/><rect x="878.70" y="379.81" width="1" height="22.34" fill="#d85a62"/><rect x="876.25" y="387.26" width="5.9" height="7.45" fill="#ef5350"/><rect x="886.64" y="387.26" width="1" height="7.45" fill="#3f968d"/><rect x="884.19" y="387.26" width="5.9" height="7.45" fill="#26a69a"/><rect x="894.58" y="394.70" width="1" height="7.45" fill="#d85a62"/><rect x="892.13" y="394.70" width="5.9" height="7.45" fill="#ef5350"/><rect x="902.52" y="402.15" width="1" height="22.34" fill="#5f9c94"/><rect x="900.07" y="401.65" width="5.9" height="1" fill="#5aa79c"/><rect x="910.46" y="387.26" width="1" height="22.34" fill="#3f968d"/><rect x="908.01" y="394.70" width="5.9" height="14.90" fill="#26a69a"/><rect x="918.39" y="394.70" width="1" height="14.90" fill="#d85a62"/><rect x="915.94" y="394.70" width="5.9" height="7.45" fill="#ef5350"/><rect x="926.33" y="402.15" width="1" height="14.90" fill="#d85a62"/><rect x="923.88" y="402.15" width="5.9" height="7.45" fill="#ef5350"/><rect x="934.27" y="402.15" width="1" height="14.90" fill="#3f968d"/><rect x="931.82" y="402.15" width="5.9" height="7.45" fill="#26a69a"/><rect x="942.21" y="402.15" width="1" height="7.45" fill="#d85a62"/><rect x="939.76" y="402.15" width="5.9" height="7.45" fill="#ef5350"/><rect x="950.15" y="409.60" width="1" height="52.14" fill="#d85a62"/><rect x="947.70" y="409.60" width="5.9" height="22.34" fill="#ef5350"/><rect x="958.08" y="424.50" width="1" height="59.58" fill="#d85a62"/><rect x="955.63" y="424.50" width="5.9" height="44.69" fill="#ef5350"/><rect x="966.02" y="461.74" width="1" height="52.14" fill="#d85a62"/><rect x="963.57" y="469.18" width="5.9" height="22.34" fill="#ef5350"/><rect x="973.96" y="469.18" width="1" height="29.79" fill="#3f968d"/><rect x="971.51" y="476.63" width="5.9" height="14.90" fill="#26a69a"/><rect x="981.90" y="454.29" width="1" height="29.79" fill="#3f968d"/><rect x="979.45" y="461.74" width="5.9" height="14.90" fill="#26a69a"/><rect x="989.84" y="446.84" width="1" height="22.34" fill="#3f968d"/><rect x="987.39" y="454.29" width="5.9" height="7.45" fill="#26a69a"/><rect x="997.77" y="446.84" width="1" height="14.90" fill="#5f9c94"/><rect x="995.32" y="453.79" width="5.9" height="1" fill="#5aa79c"/><rect x="1005.71" y="215.95" width="1" height="260.68" fill="#3f968d"/><rect x="1003.26" y="350.02" width="5.9" height="111.72" fill="#26a69a"/><rect x="1013.65" y="290.43" width="1" height="89.38" fill="#d85a62"/><rect x="1011.20" y="350.02" width="5.9" height="7.45" fill="#ef5350"/><rect x="1021.59" y="350.02" width="1" height="22.34" fill="#d85a62"/><rect x="1019.14" y="357.46" width="5.9" height="7.45" fill="#ef5350"/><rect x="1029.53" y="327.67" width="1" height="44.69" fill="#3f968d"/><rect x="1027.08" y="335.12" width="5.9" height="37.24" fill="#26a69a"/><rect x="1037.46" y="320.22" width="1" height="44.69" fill="#d85a62"/><rect x="1035.01" y="327.67" width="5.9" height="22.34" fill="#ef5350"/><rect x="1045.40" y="305.33" width="1" height="52.14" fill="#3f968d"/><rect x="1042.95" y="335.12" width="5.9" height="14.90" fill="#26a69a"/><rect x="1053.34" y="327.67" width="1" height="22.34" fill="#d85a62"/><rect x="1050.89" y="335.12" width="5.9" height="14.90" fill="#ef5350"/><rect x="1061.28" y="305.33" width="1" height="52.14" fill="#3f968d"/><rect x="1058.83" y="327.67" width="5.9" height="29.79" fill="#26a69a"/><rect x="1069.22" y="253.19" width="1" height="74.48" fill="#3f968d"/><rect x="1066.77" y="268.09" width="5.9" height="59.58" fill="#26a69a"/><rect x="1077.15" y="186.16" width="1" height="74.48" fill="#3f968d"/><rect x="1074.70" y="223.40" width="5.9" height="37.24" fill="#26a69a"/><rect x="1085.09" y="215.95" width="1" height="29.79" fill="#d85a62"/><rect x="1082.64" y="230.85" width="5.9" height="7.45" fill="#ef5350"/>
<line x1="0" y1="238.3" x2="1169" y2="238.3" stroke="#dcc6cb" stroke-width="1.3" stroke-dasharray="1 1"/>
<path d="M1092.8,277.1 L1107.8,277.6 L1105.0,281.0 L1134,303.0 L1101.5,287.0 L1099.4,290.6 Z" fill="#e9263c"/>
<rect x="0" y="559" width="1200" height="18" fill="#fff"/>
<rect x="1169.5" y="0" width="30.5" height="559" fill="#fff"/>
<line x1="1168.7" y1="0" x2="1168.7" y2="577" stroke="#efeff0" stroke-width="2"/>
<line x1="0" y1="558.9" x2="1200" y2="558.9" stroke="#ececed" stroke-width="1.8"/>
<clipPath id="pclip"><rect x="1169" y="0" width="31" height="559"/></clipPath>
<g font-size="8.9" fill="#131722" clip-path="url(#pclip)"><text x="1174.9" y="2.7" textLength="15.1" lengthAdjust="spacingAndGlyphs">3.40</text><text x="1174.9" y="39.9" textLength="15.1" lengthAdjust="spacingAndGlyphs">3.35</text><text x="1174.9" y="77.1" textLength="15.1" lengthAdjust="spacingAndGlyphs">3.30</text><text x="1174.9" y="114.4" textLength="15.1" lengthAdjust="spacingAndGlyphs">3.25</text><text x="1174.9" y="151.6" textLength="15.1" lengthAdjust="spacingAndGlyphs">3.20</text><text x="1174.9" y="188.9" textLength="15.1" lengthAdjust="spacingAndGlyphs">3.15</text><text x="1174.9" y="226.1" textLength="15.1" lengthAdjust="spacingAndGlyphs">3.10</text><text x="1174.9" y="263.3" textLength="15.1" lengthAdjust="spacingAndGlyphs">3.05</text><text x="1174.9" y="300.6" textLength="15.1" lengthAdjust="spacingAndGlyphs">3.00</text><text x="1174.9" y="337.8" textLength="15.1" lengthAdjust="spacingAndGlyphs">2.95</text><text x="1174.9" y="375.1" textLength="15.1" lengthAdjust="spacingAndGlyphs">2.90</text><text x="1174.9" y="412.3" textLength="15.1" lengthAdjust="spacingAndGlyphs">2.85</text><text x="1174.9" y="449.5" textLength="15.1" lengthAdjust="spacingAndGlyphs">2.80</text><text x="1174.9" y="486.8" textLength="15.1" lengthAdjust="spacingAndGlyphs">2.75</text><text x="1174.9" y="524.0" textLength="15.1" lengthAdjust="spacingAndGlyphs">2.70</text><text x="1174.9" y="561.3" textLength="15.1" lengthAdjust="spacingAndGlyphs">2.65</text></g>
<rect x="1169" y="232.2" width="29" height="20.4" rx="1.5" fill="#ef4050"/>
<text x="1183.5" y="241.2" font-size="8.3" fill="#fff" text-anchor="middle">3.08</text>
<text x="1183.5" y="250.3" font-size="8.3" fill="#fff" text-anchor="middle">32:17</text>
<g font-size="8.7" fill="#131722" text-anchor="middle"><text x="21.9" y="570.9" textLength="19.3" lengthAdjust="spacingAndGlyphs">18:00</text><text x="69.5" y="570.9" textLength="4.2" lengthAdjust="spacingAndGlyphs">8</text><text x="117.2" y="570.9" textLength="19.3" lengthAdjust="spacingAndGlyphs">06:00</text><text x="164.8" y="570.9" textLength="19.3" lengthAdjust="spacingAndGlyphs">12:00</text><text x="212.4" y="570.9" textLength="19.3" lengthAdjust="spacingAndGlyphs">18:00</text><text x="260.0" y="570.9" textLength="4.2" lengthAdjust="spacingAndGlyphs">9</text><text x="307.7" y="570.9" textLength="19.3" lengthAdjust="spacingAndGlyphs">06:00</text><text x="355.3" y="570.9" textLength="19.3" lengthAdjust="spacingAndGlyphs">12:00</text><text x="402.9" y="570.9" textLength="19.3" lengthAdjust="spacingAndGlyphs">18:00</text><text x="450.6" y="570.9" textLength="8.2" lengthAdjust="spacingAndGlyphs">10</text><text x="498.2" y="570.9" textLength="19.3" lengthAdjust="spacingAndGlyphs">06:00</text><text x="545.8" y="570.9" textLength="19.3" lengthAdjust="spacingAndGlyphs">12:00</text><text x="593.4" y="570.9" textLength="19.3" lengthAdjust="spacingAndGlyphs">18:00</text><text x="641.1" y="570.9" textLength="8.2" lengthAdjust="spacingAndGlyphs">11</text><text x="688.7" y="570.9" textLength="19.3" lengthAdjust="spacingAndGlyphs">06:00</text><text x="736.3" y="570.9" textLength="19.3" lengthAdjust="spacingAndGlyphs">12:00</text><text x="783.9" y="570.9" textLength="19.3" lengthAdjust="spacingAndGlyphs">18:00</text><text x="831.6" y="570.9" textLength="8.2" lengthAdjust="spacingAndGlyphs">12</text><text x="879.2" y="570.9" textLength="19.3" lengthAdjust="spacingAndGlyphs">06:00</text><text x="926.8" y="570.9" textLength="19.3" lengthAdjust="spacingAndGlyphs">12:00</text><text x="974.5" y="570.9" textLength="19.3" lengthAdjust="spacingAndGlyphs">18:00</text><text x="1022.1" y="570.9" textLength="8.2" lengthAdjust="spacingAndGlyphs">13</text><text x="1069.7" y="570.9" textLength="19.3" lengthAdjust="spacingAndGlyphs">06:00</text><text x="1117.3" y="570.9" textLength="19.3" lengthAdjust="spacingAndGlyphs">12:00</text></g>
<circle cx="10" cy="8" r="5.9" fill="#1c1a17"/>
<ellipse cx="10" cy="7.6" rx="2.3" ry="2.9" fill="#6a6458" opacity="0.8"/>
<text x="19" y="11.8" font-size="10.6" fill="#262a33" stroke="#262a33" stroke-width="0.22" textLength="201.8" lengthAdjust="spacingAndGlyphs">OFFICIAL TRUMP / US Dollar · 1h · Coinbase</text>
<circle cx="232.3" cy="7.8" r="4.4" fill="#d6f1ec"/>
<circle cx="232.3" cy="7.8" r="2.4" fill="#1b9e86"/>
<g font-size="8.4"><text x="244.8" y="10.8" fill="#2a2e39" textLength="5.2" lengthAdjust="spacingAndGlyphs">O</text><text x="250.3" y="10.8" fill="#e0606c" textLength="16.7" lengthAdjust="spacingAndGlyphs">3.09</text><text x="271.7" y="10.8" fill="#2a2e39" textLength="5.0" lengthAdjust="spacingAndGlyphs">H</text><text x="278.0" y="10.8" fill="#e0606c" textLength="15.9" lengthAdjust="spacingAndGlyphs">3.11</text><text x="299.1" y="10.8" fill="#2a2e39" textLength="4.2" lengthAdjust="spacingAndGlyphs">L</text><text x="304.2" y="10.8" fill="#e0606c" textLength="15.8" lengthAdjust="spacingAndGlyphs">3.07</text><text x="324.7" y="10.8" fill="#2a2e39" textLength="5.0" lengthAdjust="spacingAndGlyphs">C</text><text x="330.3" y="10.8" fill="#e0606c" textLength="16.6" lengthAdjust="spacingAndGlyphs">3.08</text><text x="352.5" y="10.8" fill="#e0606c" textLength="19.0" lengthAdjust="spacingAndGlyphs">−0.02</text><text x="375.4" y="10.8" fill="#e0606c" textLength="30.9" lengthAdjust="spacingAndGlyphs">(−0.65%)</text></g>
<rect x="4.5" y="18.5" width="31" height="22.5" rx="2.2" fill="#fff" stroke="#e8aab3" stroke-width="1.25"/>
<text x="20" y="28.3" font-size="8.6" fill="#e0505f" text-anchor="middle">3.08</text>
<text x="20" y="37.4" font-size="7.2" fill="#e0707c" text-anchor="middle">SELL</text>
<text x="47" y="33.2" font-size="7.4" fill="#2a2e39" text-anchor="middle">0.01</text>
<rect x="59.5" y="18.5" width="31" height="22.5" rx="2.2" fill="#fff" stroke="#aeb7dc" stroke-width="1.25"/>
<text x="75" y="28.3" font-size="8.6" fill="#5a6fd0" text-anchor="middle">3.09</text>
<text x="75" y="37.4" font-size="7.2" fill="#6a7fd6" text-anchor="middle">BUY</text>
<g font-size="8.6"><text x="4.2" y="54.9" fill="#2a2e39" stroke="#2a2e39" stroke-width="0.18" textLength="53.7" lengthAdjust="spacingAndGlyphs">FF EMAR close</text><text x="63.5" y="54.9" fill="#eee39a" textLength="15.8" lengthAdjust="spacingAndGlyphs">2.93</text><text x="84.4" y="54.9" fill="#ece2cc" textLength="15.8" lengthAdjust="spacingAndGlyphs">2.93</text><text x="105.2" y="54.9" fill="#cfa27a" textLength="15.8" lengthAdjust="spacingAndGlyphs">2.92</text><text x="125.6" y="54.9" fill="#c99a68" textLength="15.8" lengthAdjust="spacingAndGlyphs">2.92</text><text x="146.9" y="54.9" fill="#d27080" textLength="15.8" lengthAdjust="spacingAndGlyphs">2.91</text><text x="167.3" y="54.9" fill="#b65462" textLength="15.8" lengthAdjust="spacingAndGlyphs">2.91</text><text x="188.1" y="54.9" fill="#94404e" textLength="15.8" lengthAdjust="spacingAndGlyphs">2.91</text><text x="209.0" y="54.9" fill="#7e3341" textLength="15.8" lengthAdjust="spacingAndGlyphs">2.91</text><text x="229.8" y="54.9" fill="#6fdada" textLength="15.8" lengthAdjust="spacingAndGlyphs">3.03</text></g>
<rect x="4.5" y="62.2" width="18" height="13.1" rx="1.2" fill="#fff" stroke="#e3e5ea" stroke-width="0.8"/>
<path d="M10.9,70.4 L13.5,67.9 L16.1,70.4" fill="none" stroke="#2a2e39" stroke-width="1.1"/>
<path d="M6.1,539.6 H13.6 V549.7 H10.1 V543.5 H6.1 Z" fill="#131722"/>
<circle cx="17.2" cy="541.7" r="1.75" fill="#131722"/>
<path d="M21.5,539.7 H25.9 L22,549.7 H17.9 Z" fill="#131722"/>
<text x="31.8" y="549.3" font-size="12.6" font-weight="bold" fill="#131722" textLength="78.7" lengthAdjust="spacingAndGlyphs">TradingView</text>
<circle cx="1085.1" cy="550.4" r="6.2" fill="#fff" stroke="#7d4a92" stroke-width="1.2"/>
<path d="M1087.9,547.0 L1082.9,550.9 H1085.3 L1083.0,554.0 L1087.9,549.9 H1085.5 Z" fill="#8a4a9e"/>
<circle cx="1140.9" cy="550.4" r="6.3" fill="#fff" stroke="#cf5868" stroke-width="1.3"/>
<clipPath id="fc1140"><circle cx="1140.9" cy="550.4" r="5.0"/></clipPath>
<g clip-path="url(#fc1140)"><rect x="1135.9" y="545.4" width="10" height="10" fill="#fff"/><rect x="1142.1" y="545.7" width="4" height="1.3" fill="#e06070"/><rect x="1142.1" y="548.9" width="4" height="2.9" fill="#d8505c"/><rect x="1135.9" y="553.1" width="10" height="1.9" fill="#e05a66"/><rect x="1135.9" y="545.2" width="6.2" height="6.7" rx="1" fill="#3a8ad8"/></g>
<circle cx="1157.0" cy="550.4" r="6.3" fill="#fff" stroke="#cf5868" stroke-width="1.3"/>
<clipPath id="fc1157"><circle cx="1157.0" cy="550.4" r="5.0"/></clipPath>
<g clip-path="url(#fc1157)"><rect x="1152.0" y="545.4" width="10" height="10" fill="#fff"/><rect x="1158.2" y="545.7" width="4" height="1.3" fill="#e06070"/><rect x="1158.2" y="548.9" width="4" height="2.9" fill="#d8505c"/><rect x="1152.0" y="553.1" width="10" height="1.9" fill="#e05a66"/><rect x="1152.0" y="545.2" width="6.2" height="6.7" rx="1" fill="#3a8ad8"/></g>
<path d="M1183.6,564.4 H1189.2 L1190.9,568.5 L1189.2,572.6 H1183.6 L1181.5,568.5 Z" fill="none" stroke="#2a2e39" stroke-width="0.9"/>
<circle cx="1186.3" cy="568.5" r="1.6" fill="none" stroke="#2a2e39" stroke-width="0.8"/>
</svg>
</body></html>
